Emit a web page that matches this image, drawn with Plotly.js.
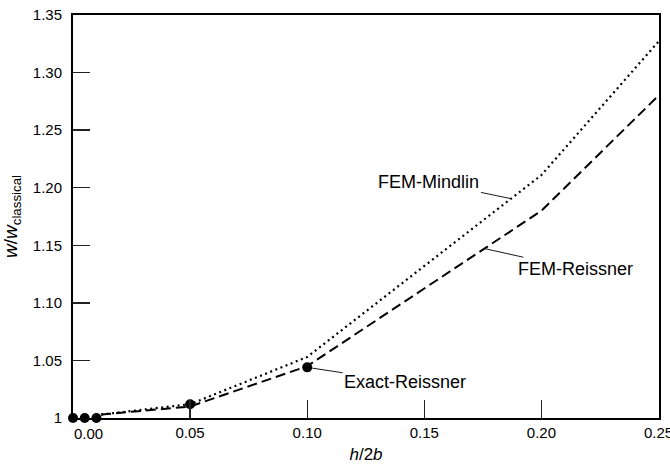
<!DOCTYPE html>
<html>
<head>
<meta charset="utf-8">
<script src="https://cdn.plot.ly/plotly-3.0.1.min.js"></script>
<style>html,body{margin:0;padding:0;background:#fff;}#chart{width:670px;height:466px;}</style>
</head>
<body>
<div id="chart"></div>
<script>
// Data
const xFEM = [0.012, 0.05, 0.10, 0.20, 0.25];
const reissnerFEM = [1.003, 1.010, 1.045, 1.180, 1.280];
const mindlinFEM = [1.003, 1.012, 1.053, 1.211, 1.327];
const xExact = [0, 0.005, 0.01, 0.05, 0.10];
const exactReissner = [1.0, 1.0, 1.0, 1.012, 1.044];

const xTickVals = [0.05, 0.10, 0.15, 0.20, 0.25];
const xTickText = ["0.05", "0.10", "0.15", "0.20", "0.25"];
const yTickVals = [1.0, 1.05, 1.10, 1.15, 1.20, 1.25, 1.30, 1.35];
const yTickText = ["1", "1.05", "1.10", "1.15", "1.20", "1.25", "1.30", "1.35"];

const FONT = "Liberation Sans, Arial, Helvetica, sans-serif";

const traces = [
  {x: xFEM, y: mindlinFEM, mode: "lines", name: "FEM-Mindlin",
   line: {color: "#000", width: 2.2, dash: "2px,3.5px"}},
  {x: xFEM, y: reissnerFEM, mode: "lines", name: "FEM-Reissner",
   line: {color: "#000", width: 2, dash: "10px,5px"}},
  {x: xExact, y: exactReissner, mode: "markers", name: "Exact-Reissner",
   marker: {color: "#000", size: 10}, cliponaxis: false}
];

const annFont = {family: FONT, size: 18, color: "#000"};
const layout = {
  width: 670, height: 466,
  margin: {l: 73, r: 11, t: 15, b: 48},
  paper_bgcolor: "#fff", plot_bgcolor: "#fff",
  showlegend: false,
  font: {family: FONT, color: "#000"},
  xaxis: {
    range: [0, 0.2502], tickvals: xTickVals, ticktext: xTickText,
    ticks: "inside", ticklen: 18, tickwidth: 1.3, tickcolor: "#222",
    showline: true, linecolor: "#000", linewidth: 2, mirror: true,
    showgrid: false, zeroline: false,
    tickfont: {family: FONT, size: 15, color: "#000"},
    ticklabelstandoff: 0, ticklabeloverflow: "allow",
    title: {text: "<i>h</i>/2<i>b</i>", font: {family: FONT, size: 17, color: "#000"}, standoff: 8}
  },
  yaxis: {
    range: [1.0, 1.35], tickvals: yTickVals, ticktext: yTickText,
    ticks: "inside", ticklen: 17, tickwidth: 1.3, tickcolor: "#222",
    showline: true, linecolor: "#000", linewidth: 2, mirror: true,
    showgrid: false, zeroline: false,
    tickfont: {family: FONT, size: 15, color: "#000"},
    ticklabelstandoff: 6,
    title: {text: "<i>w</i>/<i>w</i><sub>classical</sub>", font: {family: FONT, size: 19, color: "#000"}, standoff: 10}
  },
  annotations: [
    {x: 0, y: 0, xref: "x", yref: "paper", text: "0.00", showarrow: false,
     xanchor: "center", yanchor: "middle",
     xshift: 15, yshift: -15, font: {family: FONT, size: 15, color: "#000"}},
    {x: 0.187, y: 1.1905, xref: "x", yref: "y", text: "FEM-Mindlin", font: annFont,
     showarrow: true, arrowhead: 0, arrowwidth: 0.9, arrowcolor: "#000", ax: -82, ay: -17, standoff: 0},
    {x: 0.176, y: 1.147, xref: "x", yref: "y", text: "FEM-Reissner", font: annFont,
     showarrow: true, arrowhead: 0, arrowwidth: 0.9, arrowcolor: "#000", ax: 90, ay: 20, standoff: 0},
    {x: 0.10, y: 1.044, xref: "x", yref: "y", text: "Exact-Reissner", font: annFont,
     showarrow: true, arrowhead: 0, arrowwidth: 0.9, arrowcolor: "#000", ax: 98, ay: 15, standoff: 5}
  ]
};

Plotly.newPlot("chart", traces, layout, {staticPlot: true, displayModeBar: false});
</script>
</body>
</html>
